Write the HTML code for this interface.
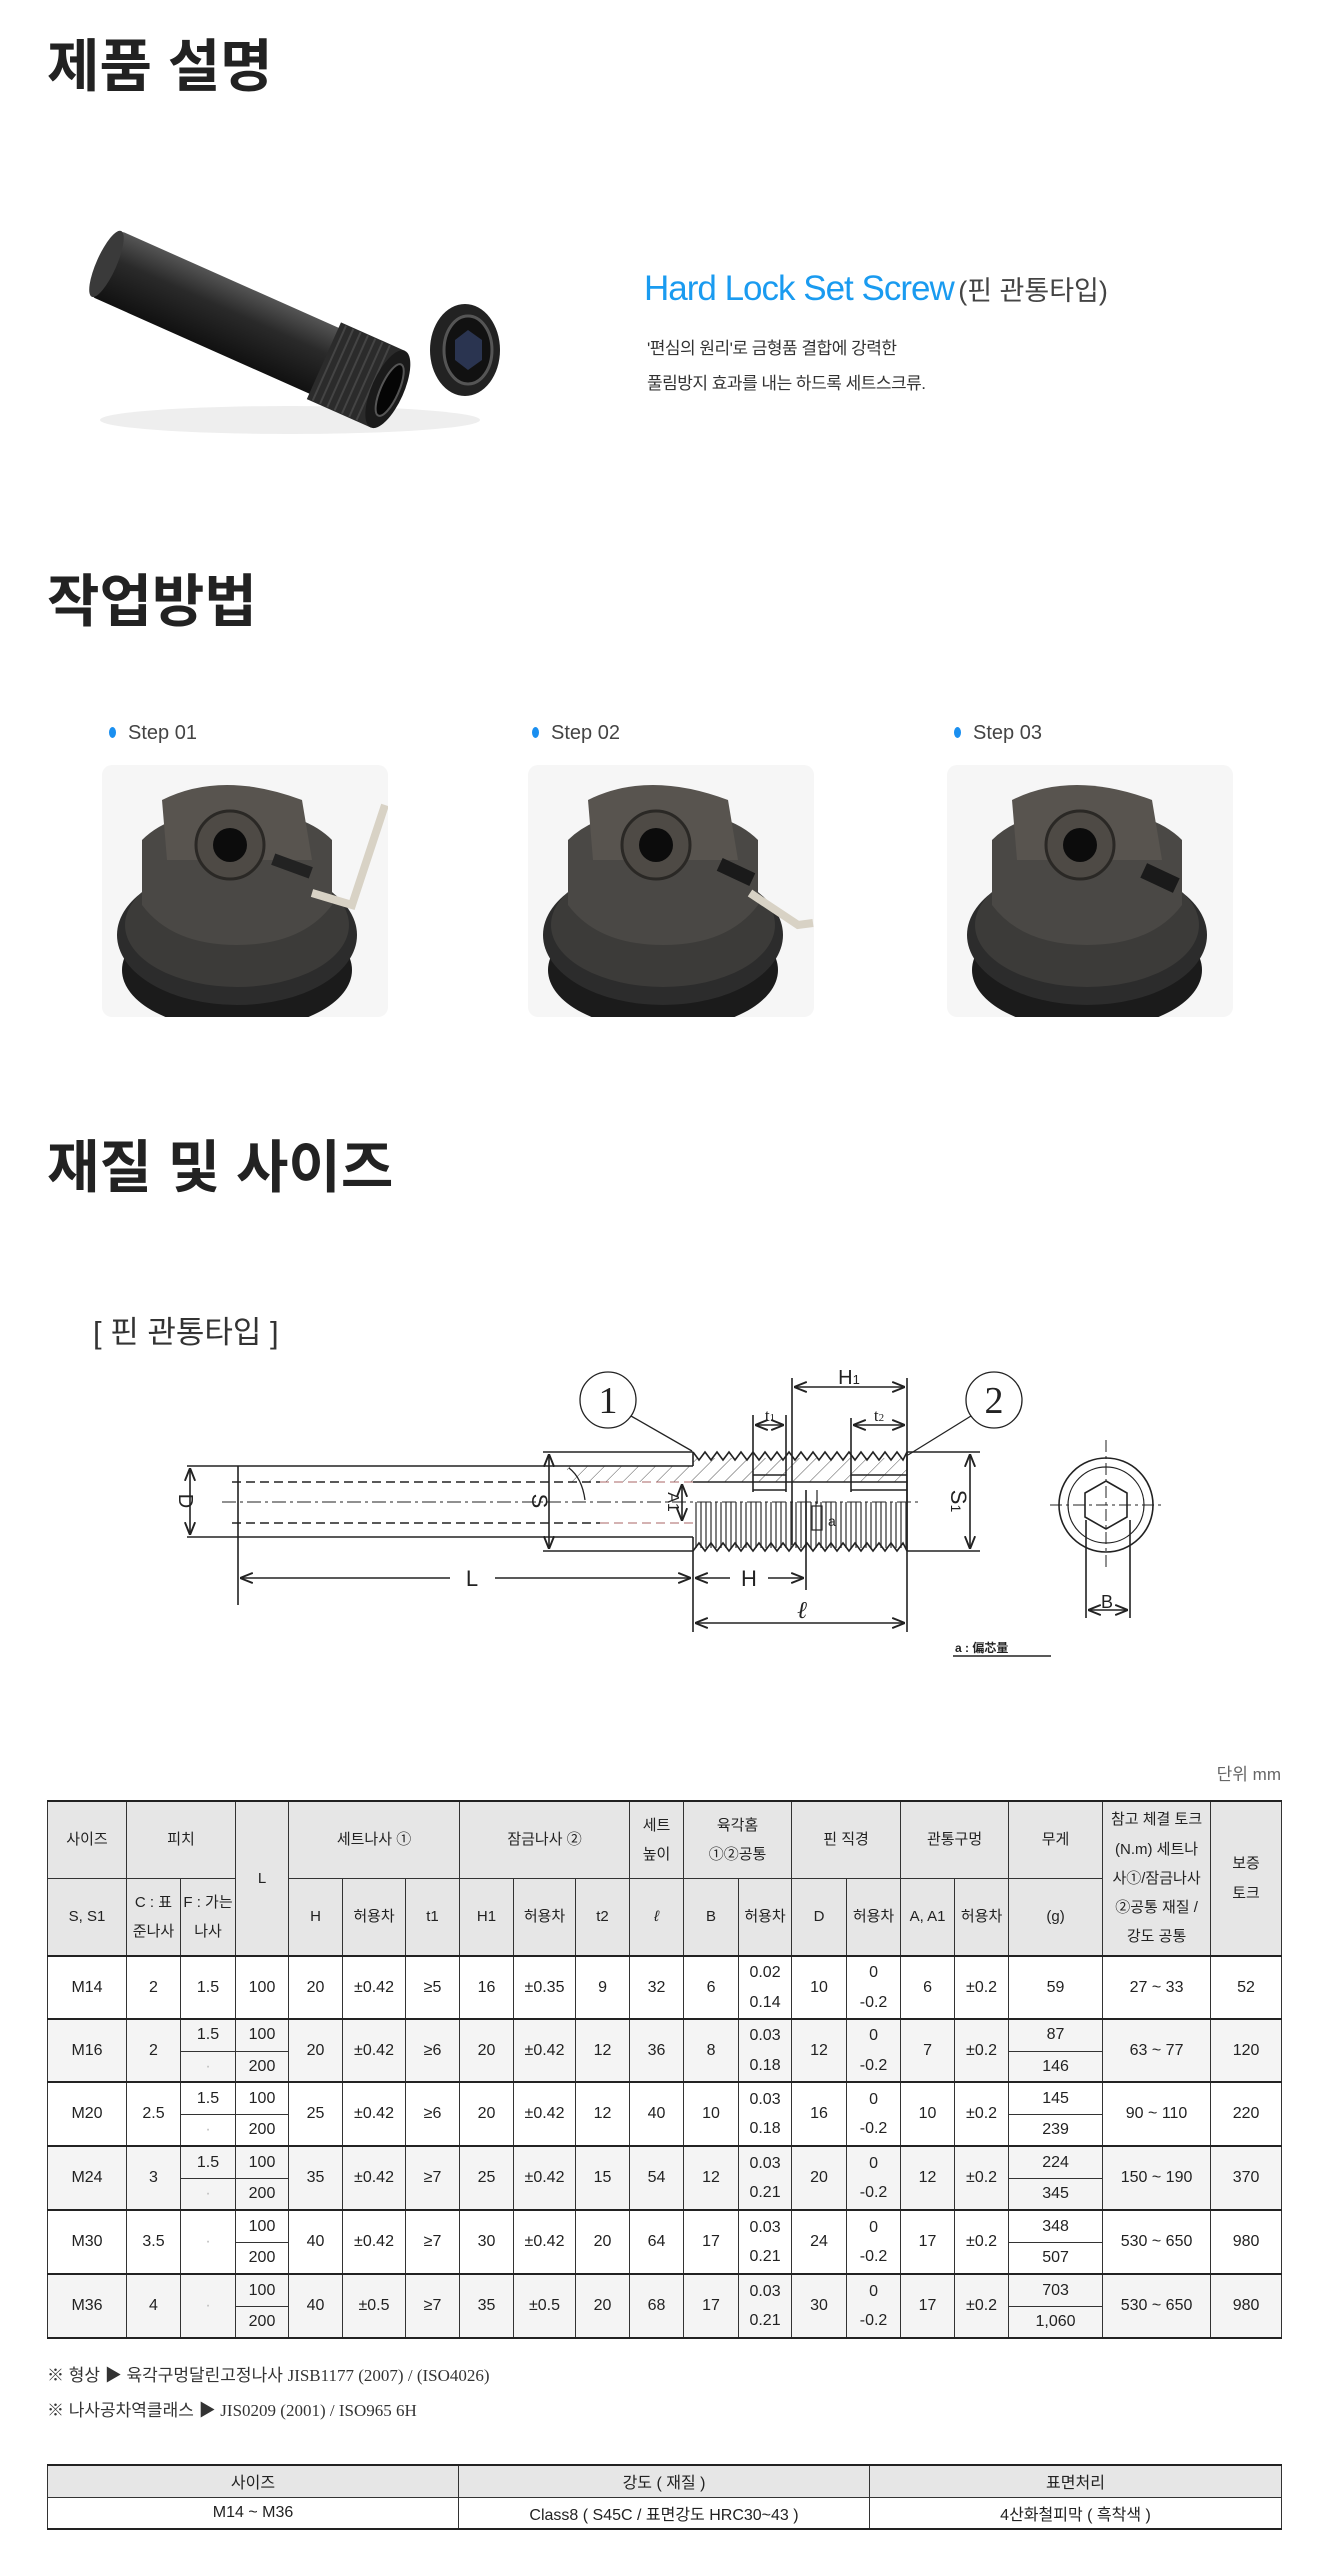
<!DOCTYPE html>
<html><head><meta charset="utf-8">
<style>
*{margin:0;padding:0;box-sizing:border-box}
body{width:1335px;height:2575px;position:relative;background:#fff;font-family:"Liberation Sans","Noto Sans CJK KR",sans-serif;color:#222;overflow:hidden}
.abs{position:absolute}
.h1{font-size:57px;font-weight:bold;line-height:1;color:#222;letter-spacing:0px}
.step{font-size:20px;color:#444;line-height:1}
.step:before{content:"";position:absolute;left:-19px;top:4px;width:7px;height:11px;border-radius:50%;background:#1a8ff0}
table{border-collapse:collapse;table-layout:fixed}
.spec td{border:1px solid #333;text-align:center;vertical-align:middle;font-size:16px;line-height:1.85;padding:0}
.spec tr.h td{background:#e6e6e6;font-size:15px;line-height:1.95}
.spec tr.top td{border-top:2px solid #222}
.g td{background:#f4f4f4}
.bt td{border:1px solid #333;text-align:center;font-size:16px;height:32px}
.bt tr:first-child td{background:#e6e6e6;border-top:2px solid #222}
.bt tr:last-child td{border-bottom:2px solid #222}
</style></head><body>

<div class="abs h1" style="left:47px;top:39px">제품 설명</div>

<svg class="abs" style="left:60px;top:230px" width="470" height="230" viewBox="60 230 470 230">
<defs>
<linearGradient id="tb" x1="0" y1="0" x2="0" y2="1"><stop offset="0" stop-color="#555"/><stop offset="0.4" stop-color="#2a2a2a"/><stop offset="1" stop-color="#111"/></linearGradient>
</defs>
<ellipse cx="290" cy="420" rx="190" ry="14" fill="#eee"/>
<g transform="rotate(24 250 330)">
<rect x="90" y="292" width="300" height="72" rx="6" fill="url(#tb)"/>
<rect x="330" y="286" width="70" height="84" fill="#2b2b2b"/>
<g stroke="#444" stroke-width="2"><line x1="336" y1="287" x2="336" y2="369"/><line x1="344" y1="287" x2="344" y2="369"/><line x1="352" y1="287" x2="352" y2="369"/><line x1="360" y1="287" x2="360" y2="369"/><line x1="368" y1="287" x2="368" y2="369"/><line x1="376" y1="287" x2="376" y2="369"/><line x1="384" y1="287" x2="384" y2="369"/></g>
<ellipse cx="400" cy="328" rx="16" ry="42" fill="#1a1a1a"/>
<ellipse cx="402" cy="328" rx="9" ry="28" fill="#050505" stroke="#555" stroke-width="2"/>
<ellipse cx="92" cy="328" rx="10" ry="36" fill="#3a3a3a"/>
</g>
<ellipse cx="465" cy="350" rx="35" ry="46" fill="#222"/>
<ellipse cx="468" cy="350" rx="24" ry="34" fill="#111" stroke="#555" stroke-width="3"/>
<polygon points="468,330 482,340 482,360 468,370 455,360 455,340" fill="#2a3450"/>
</svg>

<div class="abs" style="left:644px;top:268px;white-space:nowrap;line-height:1.2"><span style="font-size:35px;color:#1a9bf0;letter-spacing:-1px">Hard Lock Set Screw</span> <span style="font-size:27px;color:#444">(핀 관통타입)</span></div>
<div class="abs" style="left:647px;top:331px;font-size:17px;line-height:35px;color:#333;letter-spacing:-0.5px">'편심의 원리'로 금형품 결합에 강력한<br>풀림방지 효과를 내는 하드록 세트스크류.</div>

<div class="abs h1" style="left:47px;top:574px">작업방법</div>

<div class="abs step" style="left:128px;top:723px">Step 01</div>
<div class="abs step" style="left:551px;top:723px">Step 02</div>
<div class="abs step" style="left:973px;top:723px">Step 03</div>

<svg class="abs" style="left:102px;top:765px" width="286" height="252" viewBox="0 0 286 252">
<rect width="286" height="252" rx="10" fill="#f6f6f6"/>
<ellipse cx="135" cy="205" rx="115" ry="60" fill="#1b1b1b"/>
<ellipse cx="135" cy="170" rx="120" ry="70" fill="#2c2c2c"/>
<ellipse cx="135" cy="160" rx="112" ry="62" fill="#3c3b39"/>
<path d="M40,140 L40,75 Q70,45 135,45 Q200,45 230,75 L230,140 Q200,180 135,180 Q70,180 40,140Z" fill="#4a4845"/>
<path d="M65,95 L60,35 Q120,5 200,35 L210,95Z" fill="#58544f"/>
<circle cx="128" cy="80" r="34" fill="#4e4a45" stroke="#2a2825" stroke-width="3"/>
<circle cx="128" cy="80" r="17" fill="#0c0c0c"/>
<rect x="170" y="95" width="40" height="12" transform="rotate(20 190 101)" fill="#222"/>
<path d="M210,128 L250,140 L283,40" stroke="#d8d2c5" stroke-width="8" fill="none"/>
</svg>
<svg class="abs" style="left:528px;top:765px" width="286" height="252" viewBox="0 0 286 252">
<rect width="286" height="252" rx="10" fill="#f6f6f6"/>
<ellipse cx="135" cy="205" rx="115" ry="60" fill="#1b1b1b"/>
<ellipse cx="135" cy="170" rx="120" ry="70" fill="#2c2c2c"/>
<ellipse cx="135" cy="160" rx="112" ry="62" fill="#3c3b39"/>
<path d="M40,140 L40,75 Q70,45 135,45 Q200,45 230,75 L230,140 Q200,180 135,180 Q70,180 40,140Z" fill="#4a4845"/>
<path d="M65,95 L60,35 Q120,5 200,35 L210,95Z" fill="#58544f"/>
<circle cx="128" cy="80" r="34" fill="#4e4a45" stroke="#2a2825" stroke-width="3"/>
<circle cx="128" cy="80" r="17" fill="#0c0c0c"/>
<rect x="190" y="100" width="36" height="14" transform="rotate(25 208 107)" fill="#1a1a1a"/>
<path d="M222,128 L270,160 L285,158" stroke="#d8d2c5" stroke-width="8" fill="none"/>
</svg>
<svg class="abs" style="left:947px;top:765px" width="286" height="252" viewBox="0 0 286 252">
<rect width="286" height="252" rx="10" fill="#f6f6f6"/>
<ellipse cx="140" cy="205" rx="115" ry="60" fill="#1b1b1b"/>
<ellipse cx="140" cy="170" rx="120" ry="70" fill="#2c2c2c"/>
<ellipse cx="140" cy="160" rx="112" ry="62" fill="#3c3b39"/>
<path d="M45,140 L45,75 Q75,45 140,45 Q205,45 235,75 L235,140 Q205,180 140,180 Q75,180 45,140Z" fill="#4a4845"/>
<path d="M70,95 L65,35 Q125,5 205,35 L215,95Z" fill="#58544f"/>
<circle cx="133" cy="80" r="34" fill="#4e4a45" stroke="#2a2825" stroke-width="3"/>
<circle cx="133" cy="80" r="17" fill="#0c0c0c"/>
<rect x="195" y="105" width="36" height="16" transform="rotate(25 213 113)" fill="#1a1a1a"/>
</svg>

<div class="abs h1" style="left:47px;top:1140px">재질 및 사이즈</div>

<div class="abs" style="left:93px;top:1314px;font-size:31px;color:#333;line-height:1.2">[ 핀 관통타입 ]</div>

<svg class="abs" style="left:0;top:1340px" width="1335" height="330" viewBox="0 1340 1335 330" font-family="Liberation Serif, serif">
<defs>
<pattern id="hat" width="12" height="12" patternUnits="userSpaceOnUse" patternTransform="rotate(45)"><line x1="0" y1="0" x2="0" y2="12" stroke="#555" stroke-width="1"/></pattern>
<pattern id="vs" width="5" height="10" patternUnits="userSpaceOnUse"><line x1="1" y1="0" x2="1" y2="10" stroke="#555" stroke-width="1.5"/></pattern>
<marker id="ar" viewBox="0 0 10 10" refX="10" refY="5" markerWidth="8" markerHeight="8" orient="auto-start-reverse"><path d="M0,1 L10,5 L0,9" fill="none" stroke="#222" stroke-width="1.5"/></marker>
</defs>
<g stroke="#222" stroke-width="1.6" fill="none">
<rect x="567" y="1466" width="126" height="16" fill="url(#hat)" stroke="none"/>
<rect x="693" y="1458" width="214" height="24" fill="url(#hat)" stroke="none"/>
<rect x="694" y="1502" width="213" height="46" fill="url(#vs)" stroke="none"/>
<line x1="187" y1="1466" x2="693" y2="1466"/>
<line x1="187" y1="1537" x2="693" y2="1537"/>
<line x1="543" y1="1452" x2="693" y2="1452"/>
<line x1="543" y1="1551" x2="693" y2="1551"/>
<line x1="907" y1="1452" x2="980" y2="1452"/>
<line x1="907" y1="1551" x2="980" y2="1551"/>
<line x1="693" y1="1452" x2="693" y2="1466"/>
<polyline points="693,1452 699,1460 705,1452 711,1460 717,1452 723,1460 729,1452 735,1460 741,1452 747,1460 753,1452 759,1460 765,1452 771,1460 777,1452 783,1460 789,1452 795,1460 801,1452 807,1460 813,1452 819,1460 825,1452 831,1460 837,1452 843,1460 849,1452 855,1460 861,1452 867,1460 873,1452 879,1460 885,1452 891,1460 897,1452 903,1460 907,1452"/>
<polyline points="693,1551 699,1543 705,1551 711,1543 717,1551 723,1543 729,1551 735,1543 741,1551 747,1543 753,1551 759,1543 765,1551 771,1543 777,1551 783,1543 789,1551 795,1543 801,1551 807,1543 813,1551 819,1543 825,1551 831,1543 837,1551 843,1543 849,1551 855,1543 861,1551 867,1543 873,1551 879,1543 885,1551 891,1543 897,1551 903,1543 907,1551"/>
<line x1="238" y1="1466" x2="238" y2="1605"/>
<line x1="693" y1="1537" x2="693" y2="1632"/>
<line x1="806" y1="1490" x2="806" y2="1590"/>
<line x1="907" y1="1378" x2="907" y2="1632"/>
<line x1="792" y1="1378" x2="792" y2="1545"/>
<line x1="753" y1="1415" x2="753" y2="1492"/>
<line x1="786" y1="1415" x2="786" y2="1492"/>
<line x1="851" y1="1418" x2="851" y2="1492"/>
<line x1="753" y1="1475" x2="786" y2="1475"/>
<line x1="753" y1="1490" x2="786" y2="1490"/>
<line x1="851" y1="1475" x2="907" y2="1475"/>
<line x1="851" y1="1490" x2="907" y2="1490"/>
<line x1="907" y1="1452" x2="907" y2="1551"/>
<line x1="232" y1="1482" x2="600" y2="1482" stroke-dasharray="9 5"/>
<line x1="232" y1="1523" x2="600" y2="1523" stroke-dasharray="9 5"/>
<line x1="600" y1="1482" x2="693" y2="1482" stroke="#a66" stroke-width="1" stroke-dasharray="9 5"/>
<line x1="600" y1="1523" x2="693" y2="1523" stroke="#a66" stroke-width="1" stroke-dasharray="9 5"/>
<line x1="693" y1="1482" x2="907" y2="1482"/>
<line x1="222" y1="1502" x2="920" y2="1502" stroke-width="1" stroke-dasharray="14 4 3 4"/>
<line x1="190" y1="1468" x2="190" y2="1535" marker-start="url(#ar)" marker-end="url(#ar)"/>
<line x1="549" y1="1454" x2="549" y2="1549" marker-start="url(#ar)" marker-end="url(#ar)"/>
<line x1="970" y1="1454" x2="970" y2="1549" marker-start="url(#ar)" marker-end="url(#ar)"/>
<line x1="682" y1="1484" x2="682" y2="1521" marker-start="url(#ar)" marker-end="url(#ar)"/>
<line x1="240" y1="1578" x2="450" y2="1578" marker-start="url(#ar)"/>
<line x1="495" y1="1578" x2="691" y2="1578" marker-end="url(#ar)"/>
<line x1="695" y1="1578" x2="730" y2="1578" marker-start="url(#ar)"/>
<line x1="768" y1="1578" x2="804" y2="1578" marker-end="url(#ar)"/>
<line x1="695" y1="1623" x2="905" y2="1623" marker-start="url(#ar)" marker-end="url(#ar)"/>
<line x1="794" y1="1387" x2="905" y2="1387" marker-start="url(#ar)" marker-end="url(#ar)"/>
<line x1="755" y1="1425" x2="784" y2="1425" marker-start="url(#ar)" marker-end="url(#ar)"/>
<line x1="853" y1="1425" x2="905" y2="1425" marker-start="url(#ar)" marker-end="url(#ar)"/>
<circle cx="608" cy="1400" r="28" stroke-width="1.3"/>
<circle cx="994" cy="1400" r="28" stroke-width="1.3"/>
<line x1="631" y1="1416" x2="692" y2="1451" stroke-width="1.3"/>
<line x1="971" y1="1416" x2="908" y2="1455" stroke-width="1.3"/>
<path d="M569,1468 Q582,1478 585,1500" stroke-width="1.3"/>
<rect x="812" y="1506" width="10" height="24" stroke-width="1.2"/>
<line x1="817" y1="1490" x2="817" y2="1504" stroke-width="1.2"/>
<circle cx="1106" cy="1505" r="47"/>
<circle cx="1106" cy="1505" r="38" stroke-width="1.2"/>
<polygon points="1106,1481 1127,1493 1127,1517 1106,1529 1085,1517 1085,1493"/>
<line x1="1050" y1="1505" x2="1165" y2="1505" stroke-width="1" stroke-dasharray="12 4 3 4"/>
<line x1="1106" y1="1440" x2="1106" y2="1570" stroke-width="1" stroke-dasharray="12 4 3 4"/>
<line x1="1086" y1="1520" x2="1086" y2="1618"/>
<line x1="1130" y1="1520" x2="1130" y2="1618"/>
<line x1="1088" y1="1610" x2="1128" y2="1610" marker-start="url(#ar)" marker-end="url(#ar)"/>
<line x1="953" y1="1656" x2="1051" y2="1656" stroke-width="1.5"/>
</g>
<g fill="#222" font-size="20">
<text x="608" y="1413" text-anchor="middle" font-size="38">1</text>
<text x="994" y="1413" text-anchor="middle" font-size="38">2</text>
<text x="472" y="1586" font-family="Liberation Sans" font-size="22" text-anchor="middle">L</text>
<text x="749" y="1586" font-family="Liberation Sans" font-size="22" text-anchor="middle">H</text>
<text x="802" y="1618" font-size="24" text-anchor="middle" font-style="italic">ℓ</text>
<text x="849" y="1384" font-family="Liberation Sans" font-size="20" text-anchor="middle">H<tspan font-size="13">1</tspan></text>
<text x="770" y="1421" font-size="17" text-anchor="middle">t<tspan font-size="11">1</tspan></text>
<text x="879" y="1421" font-size="17" text-anchor="middle">t<tspan font-size="11">2</tspan></text>
<text x="1107" y="1608" font-family="Liberation Sans" font-size="18" text-anchor="middle">B</text>
<text transform="translate(179,1501) rotate(90)" font-family="Liberation Sans" font-size="20" text-anchor="middle">D</text>
<text transform="translate(532,1501) rotate(90)" font-family="Liberation Sans" font-size="22" text-anchor="middle">S</text>
<text transform="translate(951,1501) rotate(90)" font-family="Liberation Sans" font-size="22" text-anchor="middle">S<tspan font-size="14">1</tspan></text>
<text transform="translate(668,1502) rotate(90)" font-family="Liberation Sans" font-size="16" text-anchor="middle">A1</text>
<text x="828" y="1526" font-family="Liberation Sans" font-size="14">a</text>
<text x="955" y="1652" font-family="Liberation Sans, Noto Sans CJK JP, sans-serif" font-size="12" font-weight="bold">a : 偏芯量</text>
</g>
</svg>

<div class="abs" style="right:54px;top:1760px;font-size:17px;color:#666">단위 mm</div>

<table class="abs spec" style="left:47px;top:1800px;width:1234px;border-bottom:2px solid #222">
<colgroup><col style="width:79px"><col style="width:54px"><col style="width:55px"><col style="width:53px"><col style="width:54px"><col style="width:63px"><col style="width:54px"><col style="width:54px"><col style="width:62px"><col style="width:54px"><col style="width:54px"><col style="width:55px"><col style="width:53px"><col style="width:55px"><col style="width:54px"><col style="width:54px"><col style="width:54px"><col style="width:94px"><col style="width:108px"><col style="width:71px"></colgroup>
<tr class="h top" style="height:77px"><td>사이즈</td><td colspan="2">피치</td><td rowspan="2">L</td><td colspan="3">세트나사 ①</td><td colspan="3">잠금나사 ②</td><td>세트<br>높이</td><td colspan="2">육각홈<br>①②공통</td><td colspan="2">핀 직경</td><td colspan="2">관통구멍</td><td>무게</td><td rowspan="2">참고 체결 토크<br>(N.m) 세트나<br>사①/잠금나사<br>②공통 재질 /<br>강도 공통</td><td rowspan="2">보증<br>토크</td></tr>
<tr class="h" style="height:78px"><td>S, S1</td><td>C : 표<br>준나사</td><td>F : 가는<br>나사</td><td>H</td><td>허용차</td><td>t1</td><td>H1</td><td>허용차</td><td>t2</td><td><i>ℓ</i></td><td>B</td><td>허용차</td><td>D</td><td>허용차</td><td>A, A1</td><td>허용차</td><td>(g)</td></tr>

<tr class="top" style="height:32px"><td rowspan="2">M14</td><td rowspan="2">2</td><td rowspan="2">1.5</td><td rowspan="2">100</td><td rowspan="2">20</td><td rowspan="2">±0.42</td><td rowspan="2">≥5</td><td rowspan="2">16</td><td rowspan="2">±0.35</td><td rowspan="2">9</td><td rowspan="2">32</td><td rowspan="2">6</td><td rowspan="2">0.02<br>0.14</td><td rowspan="2">10</td><td rowspan="2">0<br>-0.2</td><td rowspan="2">6</td><td rowspan="2">±0.2</td><td rowspan="2">59</td><td rowspan="2">27 ~ 33</td><td rowspan="2">52</td></tr>
<tr style="height:31px"></tr>

<tr class="top g" style="height:32px"><td rowspan="2">M16</td><td rowspan="2">2</td><td>1.5</td><td>100</td><td rowspan="2">20</td><td rowspan="2">±0.42</td><td rowspan="2">≥6</td><td rowspan="2">20</td><td rowspan="2">±0.42</td><td rowspan="2">12</td><td rowspan="2">36</td><td rowspan="2">8</td><td rowspan="2">0.03<br>0.18</td><td rowspan="2">12</td><td rowspan="2">0<br>-0.2</td><td rowspan="2">7</td><td rowspan="2">±0.2</td><td>87</td><td rowspan="2">63 ~ 77</td><td rowspan="2">120</td></tr>
<tr class="g" style="height:31px"><td style="color:#bbb">·</td><td>200</td><td>146</td></tr>

<tr class="top" style="height:32px"><td rowspan="2">M20</td><td rowspan="2">2.5</td><td>1.5</td><td>100</td><td rowspan="2">25</td><td rowspan="2">±0.42</td><td rowspan="2">≥6</td><td rowspan="2">20</td><td rowspan="2">±0.42</td><td rowspan="2">12</td><td rowspan="2">40</td><td rowspan="2">10</td><td rowspan="2">0.03<br>0.18</td><td rowspan="2">16</td><td rowspan="2">0<br>-0.2</td><td rowspan="2">10</td><td rowspan="2">±0.2</td><td>145</td><td rowspan="2">90 ~ 110</td><td rowspan="2">220</td></tr>
<tr style="height:32px"><td style="color:#bbb">·</td><td>200</td><td>239</td></tr>

<tr class="top g" style="height:32px"><td rowspan="2">M24</td><td rowspan="2">3</td><td>1.5</td><td>100</td><td rowspan="2">35</td><td rowspan="2">±0.42</td><td rowspan="2">≥7</td><td rowspan="2">25</td><td rowspan="2">±0.42</td><td rowspan="2">15</td><td rowspan="2">54</td><td rowspan="2">12</td><td rowspan="2">0.03<br>0.21</td><td rowspan="2">20</td><td rowspan="2">0<br>-0.2</td><td rowspan="2">12</td><td rowspan="2">±0.2</td><td>224</td><td rowspan="2">150 ~ 190</td><td rowspan="2">370</td></tr>
<tr class="g" style="height:32px"><td style="color:#bbb">·</td><td>200</td><td>345</td></tr>

<tr class="top" style="height:32px"><td rowspan="2">M30</td><td rowspan="2">3.5</td><td rowspan="2" style="color:#bbb">·</td><td>100</td><td rowspan="2">40</td><td rowspan="2">±0.42</td><td rowspan="2">≥7</td><td rowspan="2">30</td><td rowspan="2">±0.42</td><td rowspan="2">20</td><td rowspan="2">64</td><td rowspan="2">17</td><td rowspan="2">0.03<br>0.21</td><td rowspan="2">24</td><td rowspan="2">0<br>-0.2</td><td rowspan="2">17</td><td rowspan="2">±0.2</td><td>348</td><td rowspan="2">530 ~ 650</td><td rowspan="2">980</td></tr>
<tr style="height:32px"><td>200</td><td>507</td></tr>

<tr class="top g" style="height:32px"><td rowspan="2">M36</td><td rowspan="2">4</td><td rowspan="2" style="color:#bbb">·</td><td>100</td><td rowspan="2">40</td><td rowspan="2">±0.5</td><td rowspan="2">≥7</td><td rowspan="2">35</td><td rowspan="2">±0.5</td><td rowspan="2">20</td><td rowspan="2">68</td><td rowspan="2">17</td><td rowspan="2">0.03<br>0.21</td><td rowspan="2">30</td><td rowspan="2">0<br>-0.2</td><td rowspan="2">17</td><td rowspan="2">±0.2</td><td>703</td><td rowspan="2">530 ~ 650</td><td rowspan="2">980</td></tr>
<tr class="g" style="height:32px"><td>200</td><td>1,060</td></tr>
</table>

<div class="abs" style="left:47px;top:2361px;font-size:17px;color:#333">※ 형상 ▶ 육각구멍달린고정나사 <span style="font-family:'Liberation Serif',serif">JISB1177 (2007) / (ISO4026)</span></div>
<div class="abs" style="left:47px;top:2396px;font-size:17px;color:#333">※ 나사공차역클래스 ▶ <span style="font-family:'Liberation Serif',serif">JIS0209 (2001) / ISO965 6H</span></div>

<table class="abs bt" style="left:47px;top:2464px;width:1234px">
<colgroup><col style="width:411px"><col style="width:411px"><col style="width:412px"></colgroup>
<tr><td>사이즈</td><td>강도 ( 재질 )</td><td>표면처리</td></tr>
<tr><td>M14 ~ M36</td><td>Class8 ( S45C / 표면강도 HRC30~43 )</td><td>4산화철피막 ( 흑착색 )</td></tr>
</table>

</body></html>
